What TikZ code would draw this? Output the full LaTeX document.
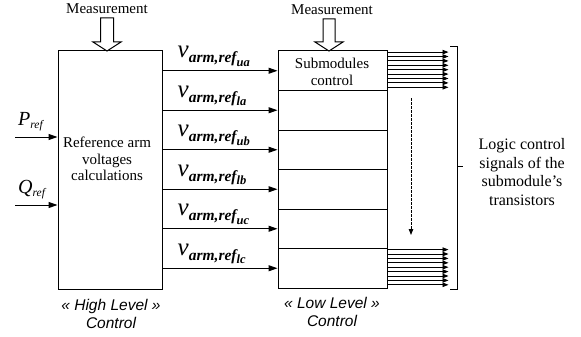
\documentclass[tikz,border=0pt]{standalone}
\usepackage{fontspec}
\setmainfont{Liberation Serif}
\newfontfamily\arialf{Liberation Sans}
\usetikzlibrary{arrows.meta,calc}
\tikzset{
  box/.style={draw,line width=1pt,inner sep=0pt},
  arr/.style={line width=1pt,-{Triangle[length=9pt,width=6pt]}},
  fan/.style={line width=0.9pt,-{Triangle[length=6pt,width=4.5pt]}},
  txt/.style={font=\fontsize{15}{16.5}\selectfont,align=center,inner sep=0pt},
  lvl/.style={font=\arialf\itshape\fontsize{15.5}{18}\selectfont,align=center,inner sep=0pt},
  hollow/.style={draw,line width=1pt,fill=white},
}
\newcommand{\varmref}[1]{{\fontsize{25}{25}\selectfont\itshape v}\raisebox{-5pt}{\fontsize{15.5}{15.5}\selectfont\bfseries\itshape arm,ref\raisebox{-3.5pt}{\fontsize{12.5}{12.5}\selectfont #1}}}
\begin{document}
\begin{tikzpicture}[x=1pt,y=-1pt]
\useasboundingbox (0,0) rectangle (581,337);
% High level box
\node[box,minimum width=104pt,minimum height=238pt] (hl) at (110,170) {};
\node[txt] (hltxt) at (107,159) {Reference arm\\voltages\\calculations};
% Low level rows
\foreach \k in {1,...,6}{
  \node[box,minimum width=109pt,minimum height=39.5pt] (r\k) at (332.5,{51+19.75+39.5*(\k-1)}) {};
}
\node[txt] (smc) at (332,72) {Submodules\\control};
% Measurement
\node[txt] (m1) at (107,9) {Measurement};
\node[txt] (m2) at (332,10) {Measurement};
\draw[hollow] (100.5,18) -- (113.5,18) -- (113.5,42) -- (121,42) -- (107,51) -- (93,42) -- (100.5,42) -- cycle;
\draw[hollow] (323,19) -- (335,19) -- (335,42) -- (343,42) -- (329,51) -- (315,42) -- (323,42) -- cycle;
% Inputs
\coordinate (pin) at (15,137);
\coordinate (qin) at (15,205);
\draw[arr] (pin) -- (pin -| hl.west);
\draw[arr] (qin) -- (qin -| hl.west);
\node[anchor=base west,inner sep=0pt] (pref) at (18,125) {{\fontsize{20}{20}\selectfont\itshape P}\raisebox{-3pt}{\fontsize{11.5}{11.5}\selectfont\itshape ref}};
\node[anchor=base west,inner sep=0pt] (qref) at (18,193) {{\fontsize{20}{20}\selectfont\itshape Q}\raisebox{-3pt}{\fontsize{11.5}{11.5}\selectfont\itshape ref}};
% Arm reference arrows
\foreach \k/\s in {1/ua,2/la,3/ub,4/lb,5/uc,6/lc}{
  \draw[arr] (r\k.west -| hl.east) -- (r\k.west);
  \node[anchor=base west,inner sep=0pt] (lab\k) at ($(r\k.west -| hl.east)+(15,-13)$) {\varmref{\s}};
}
% Fans
\foreach \i in {0,...,8}{
  \draw[fan] ([yshift={-(1.6+4.4*\i)*1pt}]r1.north east) -- ++(61,0);
  \draw[fan] ([yshift={-(1.6+4.4*\i)*1pt}]r6.north east) -- ++(61,0);
}
% dashed arrow
\coordinate (dtop) at (411,98);
\coordinate (dbot) at (411,235);
\draw[line width=0.9pt,dashed,dash pattern=on 2.5pt off 1.5pt,-{Triangle[length=6pt,width=4.5pt]}] (dtop) -- (dbot);
% bracket
\draw[line width=1pt] (450,47) -- (457,47) -- (457,289) -- (450,289);
\draw[line width=1pt] (457,166) -- (463,166);
\node[txt,font=\fontsize{16}{18.5}\selectfont] (logic) at (522,172) {Logic control\\signals of the\\submodule's\\transistors};
% level labels
\node[lvl] (hll) at (111,314) {« High Level »\\Control};
\node[lvl] (lll) at (332,312) {« Low Level »\\Control};
\end{tikzpicture}
\end{document}
